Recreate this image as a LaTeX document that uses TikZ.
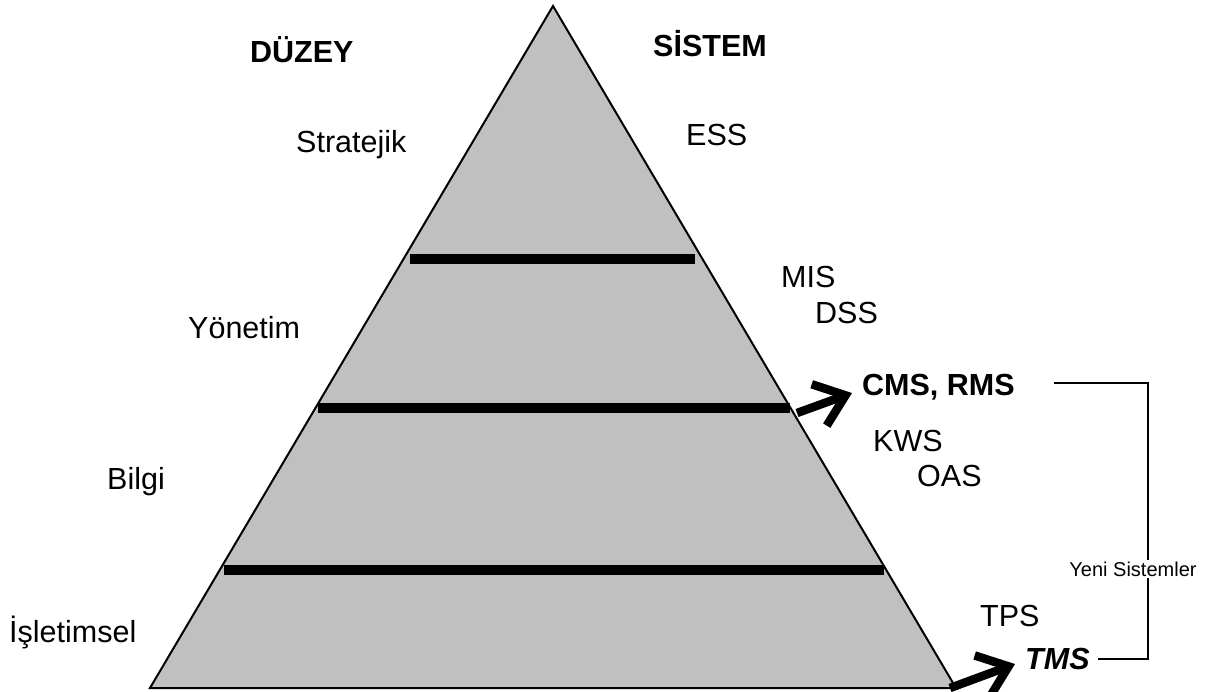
\documentclass[tikz,border=0pt]{standalone}
\usepackage{fontspec}
\setmainfont{Liberation Sans}
\usetikzlibrary{arrows.meta}
\tikzset{
  lbl/.style={anchor=base west, inner sep=0pt, font=\fontsize{30.5}{36}\selectfont},
  hdr/.style={lbl, font=\fontsize{30.5}{36}\selectfont\bfseries},
  bar/.style={line width=10pt, line cap=butt},
  bigarrow/.style={line width=8.5pt, -{Straight Barb[length=28pt, width=44pt]}},
  bracket/.style={line width=1.5pt},
}
\begin{document}
\begin{tikzpicture}[x=1pt, y=-1pt]
\useasboundingbox (0,0) rectangle (1210,691);
% pyramid
\coordinate (apex) at (553,6);
\coordinate (bl) at (150,688);
\coordinate (br) at (956,688);
\draw[line width=2pt, fill={rgb,255:red,192;green,192;blue,192}, line join=miter] (apex) -- (br) -- (bl) -- cycle;
% bars
\draw[bar] (410,259) -- (695,259);
\draw[bar] (318,408) -- (790,408);
\draw[bar] (224,570) -- (884,570);
% headers
\node[hdr] (duzey) at (250,62) {DÜZEY};
\node[hdr] (sistem) at (653,56) {SİSTEM};
% levels
\node[lbl] (strat) at (296,152) {Stratejik};
\node[lbl] (yon) at (188,338) {Yönetim};
\node[lbl] (bilgi) at (107,489) {Bilgi};
\node[lbl] (islet) at (9,642) {İşletimsel};
% systems
\node[lbl] (ess) at (686,145) {ESS};
\node[lbl] (mis) at (781,287) {MIS};
\node[lbl] (dss) at (815,323) {DSS};
\node[hdr] (cms) at (862,395) {CMS, RMS};
\node[lbl] (kws) at (873,451) {KWS};
\node[lbl] (oas) at (917,486) {OAS};
\node[lbl] (tps) at (980,626) {TPS};
\node[hdr, font=\fontsize{30.5}{36}\selectfont\bfseries\itshape] (tms) at (1025,669) {TMS};
% arrows
\coordinate (a1s) at (797,413);
\coordinate (a1e) at (852,393);
\coordinate (a2s) at (950,688);
\coordinate (a2e) at (1015,664);
\draw[bigarrow] (a1s) -- (a1e);
\draw[bigarrow] (a2s) -- (a2e);
% bracket
\coordinate (b1) at (1054,383);
\coordinate (b2) at (1148,383);
\coordinate (b3) at (1148,659);
\coordinate (b4) at (1098,659);
\draw[bracket] (b1) -- (b2) -- (b3) -- (b4);
\node[fill=white, inner sep=2pt, font=\fontsize{20}{24}\selectfont] (yeni) at (1133,569) {Yeni Sistemler};
\end{tikzpicture}
\end{document}
